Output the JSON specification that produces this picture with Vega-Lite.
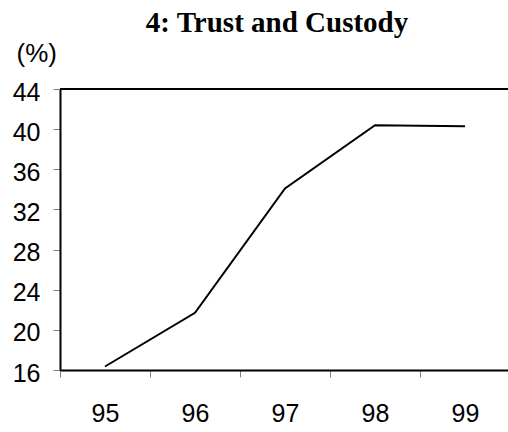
{
  "$schema": "https://vega.github.io/schema/vega-lite/v6.json",
  "width": 448,
  "height": 281,
  "autosize": {"type": "none"},
  "padding": {"left": 60, "top": 89, "right": 0, "bottom": 62},
  "background": "white",
  "config": {"view": {"stroke": null}, "font": "Liberation Sans"},
  "title": {
    "text": "4: Trust and Custody",
    "font": "Liberation Serif",
    "fontSize": 29,
    "fontWeight": "bold",
    "color": "black",
    "anchor": "middle",
    "frame": "group",
    "baseline": "alphabetic",
    "offset": -21,
    "dx": -7
  },
  "data": {
    "values": [
      {"year": "95", "pct": 16.35},
      {"year": "96", "pct": 21.7},
      {"year": "97", "pct": 34.1},
      {"year": "98", "pct": 40.4},
      {"year": "99", "pct": 40.3}
    ]
  },
  "layer": [
    {
      "mark": {"type": "line", "color": "black", "strokeWidth": 2},
      "encoding": {
        "x": {
          "field": "year",
          "type": "ordinal",
          "sort": null,
          "scale": {"range": [0, 450], "paddingInner": 0, "paddingOuter": 0},
          "axis": {
            "title": null,
            "labelAngle": 0,
            "labelFont": "Liberation Sans",
            "labelFontSize": 25,
            "labelColor": "black",
            "labelPadding": 24,
            "tickBand": "extent",
            "tickSize": 7,
            "tickColor": "#808080",
            "tickWidth": 1,
            "domainColor": "black",
            "domainWidth": 2
          }
        },
        "y": {
          "field": "pct",
          "type": "quantitative",
          "scale": {"domain": [16, 44], "nice": false, "zero": false},
          "axis": {
            "values": [16, 20, 24, 28, 32, 36, 40, 44],
            "grid": false,
            "title": "(%)",
            "titleAngle": 0,
            "titleFont": "Liberation Sans",
            "titleFontSize": 26,
            "titleFontWeight": "normal",
            "titleColor": "black",
            "titleAlign": "left",
            "titleBaseline": "alphabetic",
            "titleX": -44,
            "titleY": -28,
            "labelFont": "Liberation Sans",
            "labelFontSize": 25,
            "labelColor": "black",
            "labelPadding": 13,
            "labelOffset": 3,
            "tickSize": 7,
            "tickColor": "#808080",
            "tickWidth": 1,
            "domainColor": "black",
            "domainWidth": 2
          }
        }
      }
    },
    {
      "mark": {"type": "rule", "color": "black", "strokeWidth": 2},
      "encoding": {"y": {"datum": 44}}
    }
  ]
}
